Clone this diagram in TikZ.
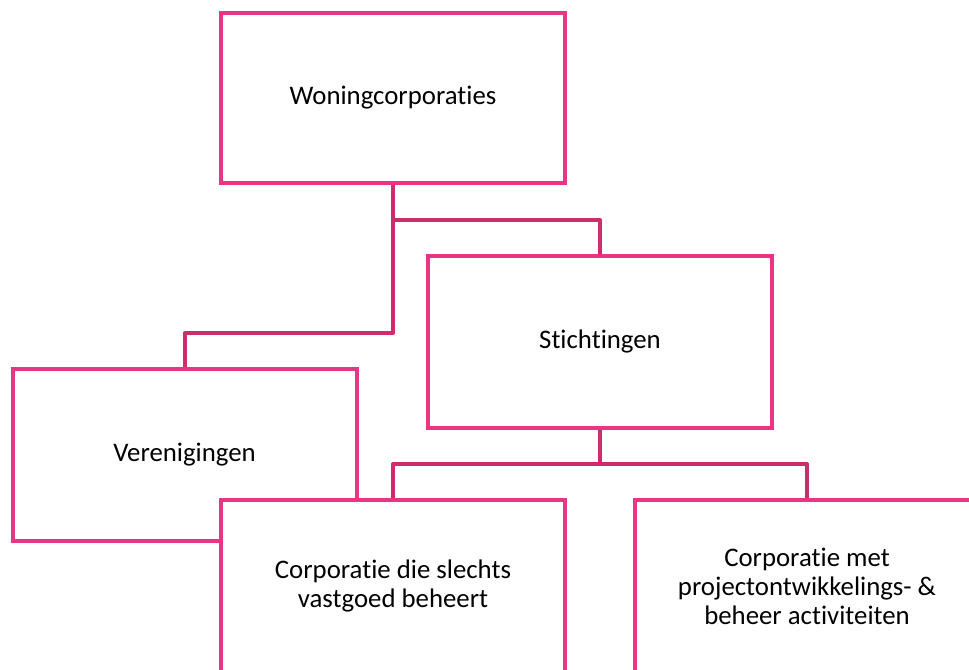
\documentclass[tikz,border=0pt]{standalone}
\usepackage{fontspec}
\setmainfont{Carlito}[Ligatures={NoCommon,NoContextual}]
\usetikzlibrary{backgrounds}
\definecolor{cKader}{HTML}{E83584}
\definecolor{cLijn}{HTML}{CC2D6C}
\tikzset{
    x=0.75pt, y=-0.75pt, font=\fontsize{20.1}{21.7}\selectfont,
    kader/.style={draw=cKader, line width=3pt, fill=white, align=center,
                  minimum width=258pt, minimum height=129pt, inner sep=0pt,
                  outer sep=0pt},
    lijn/.style={draw=cLijn, line width=3pt, line join=round},
}

\begin{document}
\begin{tikzpicture}
    \useasboundingbox (0,0) rectangle (969,669);
    \clip (0,0) rectangle (969,669);

    \node[kader, minimum height=128pt] (woning) at (393,98) {Woningcorporaties};
    \node[kader] (stichting) at (600,341.5) {Stichtingen};
    \node[kader] (vereniging) at (184.5,454.5) {Verenigingen};
    \node[kader] (beheer) at (393,586)
        {Corporatie die slechts\\vastgoed beheert};
    \node[kader] (ontwikkel) at (807,586)
        {Corporatie met\\projectontwikkelings- \&\\beheer activiteiten};

    \coordinate (splitsA) at (woning.south |- 0,333);
    \coordinate (splitsB) at (woning.south |- 0,220);
    \coordinate (splitsC) at (stichting.south |- 0,464);

    % de verbindingen onder de kaders
    \begin{scope}[on background layer]
        \draw[lijn] (woning.south) -- (splitsA) -| (vereniging.north);
        \draw[lijn] (splitsB) -| (stichting.north);
        \draw[lijn] (stichting.south) -- (splitsC);
        \draw[lijn] (beheer.north) |- (splitsC) -| (ontwikkel.north);
    \end{scope}
\end{tikzpicture}
\end{document}
